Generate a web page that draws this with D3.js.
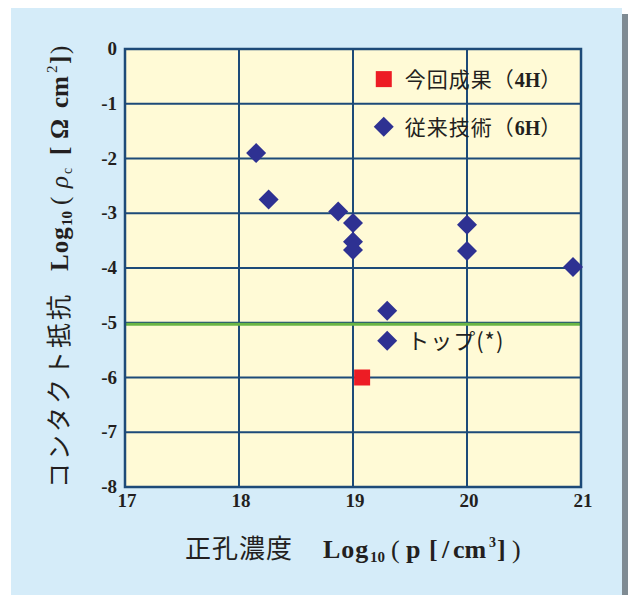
<!DOCTYPE html>
<html>
<head>
<meta charset="utf-8">
<script src="https://cdn.jsdelivr.net/npm/d3@7"></script>
<style>
	body { margin: 0; background: #fff; }
	.tick-label { font-family: "Liberation Serif", "DejaVu Serif", serif; font-weight: bold; font-size: 19px; fill: #231f20; }
	.jp { font-family: "Noto Sans CJK JP", sans-serif; font-weight: normal; }
	.lat { font-family: "Liberation Serif", serif; font-weight: bold; }
	.ser { font-family: "Liberation Serif", serif; font-weight: normal; }
</style>
</head>
<body>
<svg id="plot"></svg>
<script>
const WIDTH = 628;
const HEIGHT = 595;

const xTicks = [17, 18, 19, 20, 21];
const yTicks = [0, -1, -2, -3, -4, -5, -6, -7, -8];

// 今回成果 (4H)
const newX = [19.08];
const newY = [-6.0];

// 従来技術 (6H)
const priorX = [18.15, 18.26, 18.87, 19.0, 19.0, 19.0, 20.0, 20.0, 20.93, 19.3];
const priorY = [-1.9, -2.75, -2.97, -3.18, -3.52, -3.67, -3.21, -3.69, -3.98, -4.78];

const targetLine = -5;
const topNoteX = [19.3];
const topNoteY = [-5.33];
const topNoteText = ["トップ(*)"];

const legendLabels = ["今回成果", "従来技術"];
const legendSuffix = ["4H", "6H"];

const svg = d3.select("#plot").attr("width", WIDTH).attr("height", HEIGHT);

// panel + shadow
svg.append("rect").attr("x", 622).attr("y", 14).attr("width", 6).attr("height", HEIGHT - 14).attr("fill", "#7f8b93");
svg.append("rect").attr("x", 11).attr("y", 8).attr("width", 611).attr("height", HEIGHT - 8).attr("fill", "#d5ecf9");

const x = d3.scaleLinear([17, 21], [125, 581]);
const y = d3.scaleLinear([-8, 0], [487, 49]);

const GRID = "#1d4a78";

svg.append("rect")
	.attr("x", x(17)).attr("y", y(0))
	.attr("width", x(21) - x(17)).attr("height", y(-8) - y(0))
	.attr("fill", "#fffad6");

svg.selectAll(".vgrid").data(xTicks).join("line")
	.attr("class", "vgrid")
	.attr("x1", d => x(d)).attr("x2", d => x(d))
	.attr("y1", y(0)).attr("y2", y(-8))
	.attr("stroke", GRID).attr("stroke-width", 2);

svg.selectAll(".hgrid").data(yTicks).join("line")
	.attr("class", "hgrid")
	.attr("x1", x(17)).attr("x2", x(21))
	.attr("y1", d => y(d)).attr("y2", d => y(d))
	.attr("stroke", GRID).attr("stroke-width", 2);

// green target line at -5
svg.append("line")
	.attr("x1", x(17) + 1).attr("x2", x(21) - 1)
	.attr("y1", y(targetLine) + 1.5).attr("y2", y(targetLine) + 1.5)
	.attr("stroke", "#6ab545").attr("stroke-width", 3);

svg.append("rect")
	.attr("x", x(17)).attr("y", y(0))
	.attr("width", x(21) - x(17)).attr("height", y(-8) - y(0))
	.attr("fill", "none").attr("stroke", GRID).attr("stroke-width", 2.5);

// tick labels
svg.selectAll(".xlab").data(xTicks).join("text")
	.attr("class", "tick-label xlab")
	.attr("x", d => x(d) + 2).attr("y", 507)
	.attr("text-anchor", "middle")
	.text(d => d);

svg.selectAll(".ylab").data(yTicks).join("text")
	.attr("class", "tick-label ylab")
	.attr("x", 117).attr("y", d => y(d) + 6)
	.attr("text-anchor", "end")
	.text(d => d);

const diamond = (cx, cy, r) => `M${cx},${cy - r}L${cx + r},${cy}L${cx},${cy + r}L${cx - r},${cy}Z`;
const BLUE = "#2e3192";
const RED = "#ed1c24";

svg.selectAll(".prior").data(d3.range(priorX.length)).join("path")
	.attr("class", "prior")
	.attr("d", i => diamond(x(priorX[i]), y(priorY[i]), 10))
	.attr("fill", BLUE);

svg.selectAll(".new").data(d3.range(newX.length)).join("rect")
	.attr("class", "new")
	.attr("x", i => x(newX[i]) - 8).attr("y", i => y(newY[i]) - 8)
	.attr("width", 16).attr("height", 16)
	.attr("fill", RED);

// top annotation
svg.selectAll(".topnote-mark").data(d3.range(topNoteX.length)).join("path")
	.attr("d", i => diamond(x(topNoteX[i]), y(topNoteY[i]), 10))
	.attr("fill", BLUE);
svg.selectAll(".topnote-text").data(d3.range(topNoteX.length)).join("text")
	.attr("class", "jp")
	.attr("x", i => x(topNoteX[i]) + 20).attr("y", i => y(topNoteY[i]) + 8)
	.attr("font-size", 22).attr("letter-spacing", 1).attr("fill", "#231f20")
	.text(i => topNoteText[i]);

// legend
const legendX = x(19.27);
const legendY = [y(-0.55), y(-1.42)];
legendLabels.forEach((label, i) => {
	if (i === 0) {
		svg.append("rect").attr("x", legendX - 8).attr("y", legendY[i] - 8)
			.attr("width", 16).attr("height", 16).attr("fill", RED);
	} else {
		svg.append("path").attr("d", diamond(legendX, legendY[i], 10)).attr("fill", BLUE);
	}
	const t = svg.append("text").attr("x", legendX + 21).attr("y", legendY[i] + 8)
		.attr("font-size", 21).attr("fill", "#231f20");
	t.append("tspan").attr("class", "jp").attr("letter-spacing", 1).text(label + "（");
	t.append("tspan").attr("class", "lat").attr("font-size", 20).text(legendSuffix[i]);
	t.append("tspan").attr("class", "jp").text("）");
});

// x title (each piece placed along the baseline)
const xt = svg.append("text").attr("y", 558).attr("fill", "#231f20").attr("font-size", 26);
xt.append("tspan").attr("class", "jp").attr("x", 185).attr("font-size", 26).attr("letter-spacing", 1).text("正孔濃度");
xt.append("tspan").attr("class", "lat").attr("x", 323).attr("letter-spacing", 1).text("Log");
xt.append("tspan").attr("class", "lat").attr("x", 370).attr("font-size", 15).attr("dy", 4).text("10");
xt.append("tspan").attr("class", "ser").attr("x", 391).attr("dy", -4).text("(");
xt.append("tspan").attr("class", "lat").attr("x", 406).text("p");
xt.append("tspan").attr("class", "lat").attr("x", 429).text("[");
xt.append("tspan").attr("class", "lat").attr("x", 442).text("/");
xt.append("tspan").attr("class", "lat").attr("x", 453).text("cm");
xt.append("tspan").attr("class", "lat").attr("x", 489).attr("font-size", 14).attr("dy", -11).text("3");
xt.append("tspan").attr("class", "lat").attr("x", 497).attr("dy", 11).text("]");
xt.append("tspan").attr("class", "ser").attr("x", 512).text(")");

// y title, rotated; x positions run upward from the bottom of the column
const yt = svg.append("text")
	.attr("transform", "translate(68,488) rotate(-90)")
	.attr("fill", "#231f20").attr("font-size", 25);
yt.append("tspan").attr("class", "jp").attr("x", 0).attr("font-size", 25).attr("letter-spacing", 3).text("コンタクト抵抗");
yt.append("tspan").attr("class", "lat").attr("x", 217).attr("letter-spacing", 1).text("Log");
yt.append("tspan").attr("class", "lat").attr("x", 262).attr("font-size", 15).attr("dy", 4).text("10");
yt.append("tspan").attr("class", "ser").attr("x", 283).attr("dy", -4).text("(");
yt.append("tspan").attr("font-family", "Liberation Serif, serif").attr("font-style", "italic").attr("x", 300).text("ρ");
yt.append("tspan").attr("class", "ser").attr("x", 314).attr("font-size", 14).attr("dy", 4).text("c");
yt.append("tspan").attr("class", "lat").attr("x", 333).attr("dy", -4).text("[");
yt.append("tspan").attr("class", "lat").attr("x", 349).text("Ω");
yt.append("tspan").attr("class", "lat").attr("x", 380).text("cm");
yt.append("tspan").attr("class", "ser").attr("x", 415).attr("font-size", 15).attr("dy", -11).text("2");
yt.append("tspan").attr("class", "lat").attr("x", 424).attr("dy", 11).text("]");
yt.append("tspan").attr("class", "ser").attr("x", 434).text(")");
</script>
</body>
</html>
